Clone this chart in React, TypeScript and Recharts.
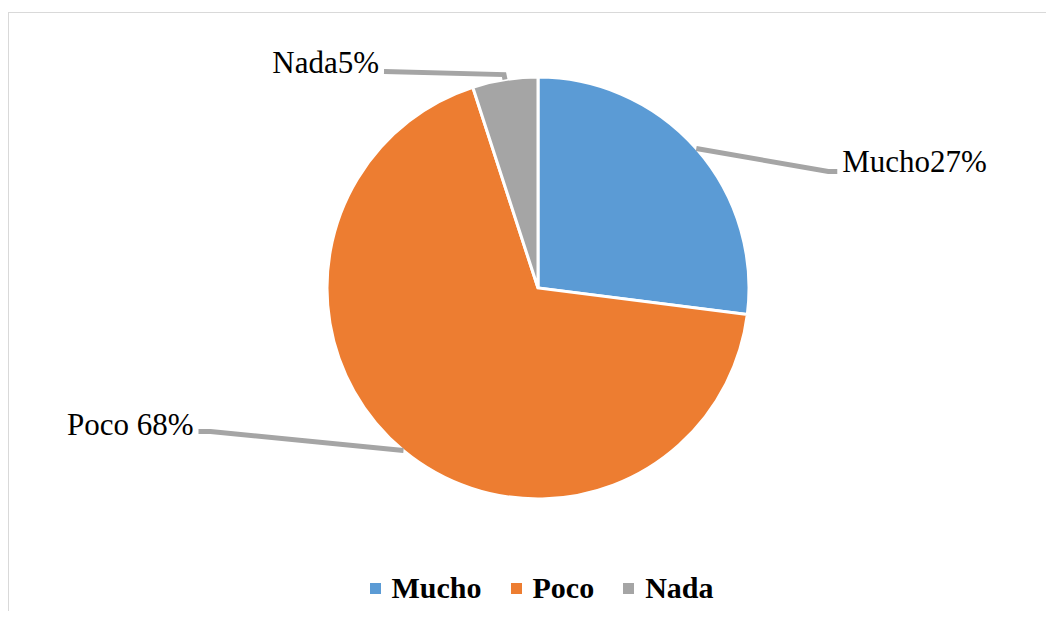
import React from 'react';
import { PieChart, Pie, Cell, Legend } from 'recharts';

const categories = ['Mucho', 'Poco', 'Nada'];
const percentages = [27, 68, 5];
const labelTexts = ['Mucho27%', 'Poco 68%', 'Nada5%'];
const colors = ['#5b9bd5', '#ed7d31', '#a5a5a5'];

const data = categories.map((name, i) => ({ name, value: percentages[i] }));

const FONT = "'Times New Roman', 'Liberation Serif', serif";

// leader line layout (Excel style): elbow offset from slice edge, then end offset from elbow
const leaders: Record<string, { elbow: [number, number]; end: [number, number]; text: [number, number]; anchor: 'start' | 'end' }> = {
  Mucho: { elbow: [132, 23], end: [9, 0], text: [5, 1], anchor: 'start' },
  Poco: { elbow: [-193, -19], end: [-12, 0], text: [-5, 3], anchor: 'end' },
  Nada: { elbow: [-1, -5], end: [-120, -3], text: [-5, 1], anchor: 'end' },
};

const RADIAN = Math.PI / 180;

const renderLabel = (props: any) => {
  const { cx, cy, midAngle, outerRadius, index } = props;
  const name = categories[index];
  const cfg = leaders[name];
  const sx = cx + outerRadius * Math.cos(-midAngle * RADIAN);
  const sy = cy + outerRadius * Math.sin(-midAngle * RADIAN);
  const ex = sx + cfg.elbow[0];
  const ey = sy + cfg.elbow[1];
  const tx = ex + cfg.end[0];
  const ty = ey + cfg.end[1];
  return (
    <g>
      <polyline
        points={`${sx},${sy} ${ex},${ey} ${tx},${ty}`}
        fill="none"
        stroke="#a5a5a5"
        strokeWidth={5}
      />
      <text
        x={tx + cfg.text[0]}
        y={ty + cfg.text[1]}
        textAnchor={cfg.anchor}
        fill="#000"
        fontSize={31}
        fontFamily={FONT}
      >
        {labelTexts[index]}
      </text>
    </g>
  );
};

const renderLegend = (props: any) => {
  const payload = [...(props.payload || [])].sort(
    (a: any, b: any) => categories.indexOf(a.value) - categories.indexOf(b.value)
  );
  return (
    <div style={{ display: 'flex', justifyContent: 'center', alignItems: 'center', paddingLeft: 20, height: 34 }}>
      {payload.map((entry: any, i: number) => (
        <div key={i} style={{ display: 'flex', alignItems: 'center', marginRight: i < payload.length - 1 ? 29 : 0 }}>
          <span style={{ display: 'inline-block', width: 11, height: 11, background: entry.color, marginRight: 11 }} />
          <span style={{ fontFamily: FONT, fontWeight: 'bold', fontSize: 30, color: '#000', lineHeight: '34px' }}>
            {entry.value}
          </span>
        </div>
      ))}
    </div>
  );
};

export default function App() {
  return (
    <div style={{ paddingTop: 4, marginBottom: -8 }}>
      <div
        style={{
          width: 1046,
          height: 607,
          boxSizing: 'border-box',
          borderTop: '1px solid #d9d9d9',
          borderLeft: '1px solid #d9d9d9',
          background: '#fff',
          overflow: 'hidden',
        }}
      >
        <PieChart width={1045} height={606}>
          <Pie
            data={data}
            dataKey="value"
            nameKey="name"
            cx={524}
            cy={270}
            outerRadius={211}
            startAngle={90}
            endAngle={-270}
            stroke="#ffffff"
            strokeWidth={3}
            label={renderLabel}
            labelLine={false}
            isAnimationActive={false}
          >
            {data.map((d, i) => (
              <Cell key={d.name} fill={colors[i]} />
            ))}
          </Pie>
          <Legend
            content={renderLegend}
            wrapperStyle={{ top: 558, bottom: 'auto', left: 0, width: 1045 }}
          />
        </PieChart>
      </div>
    </div>
  );
}
